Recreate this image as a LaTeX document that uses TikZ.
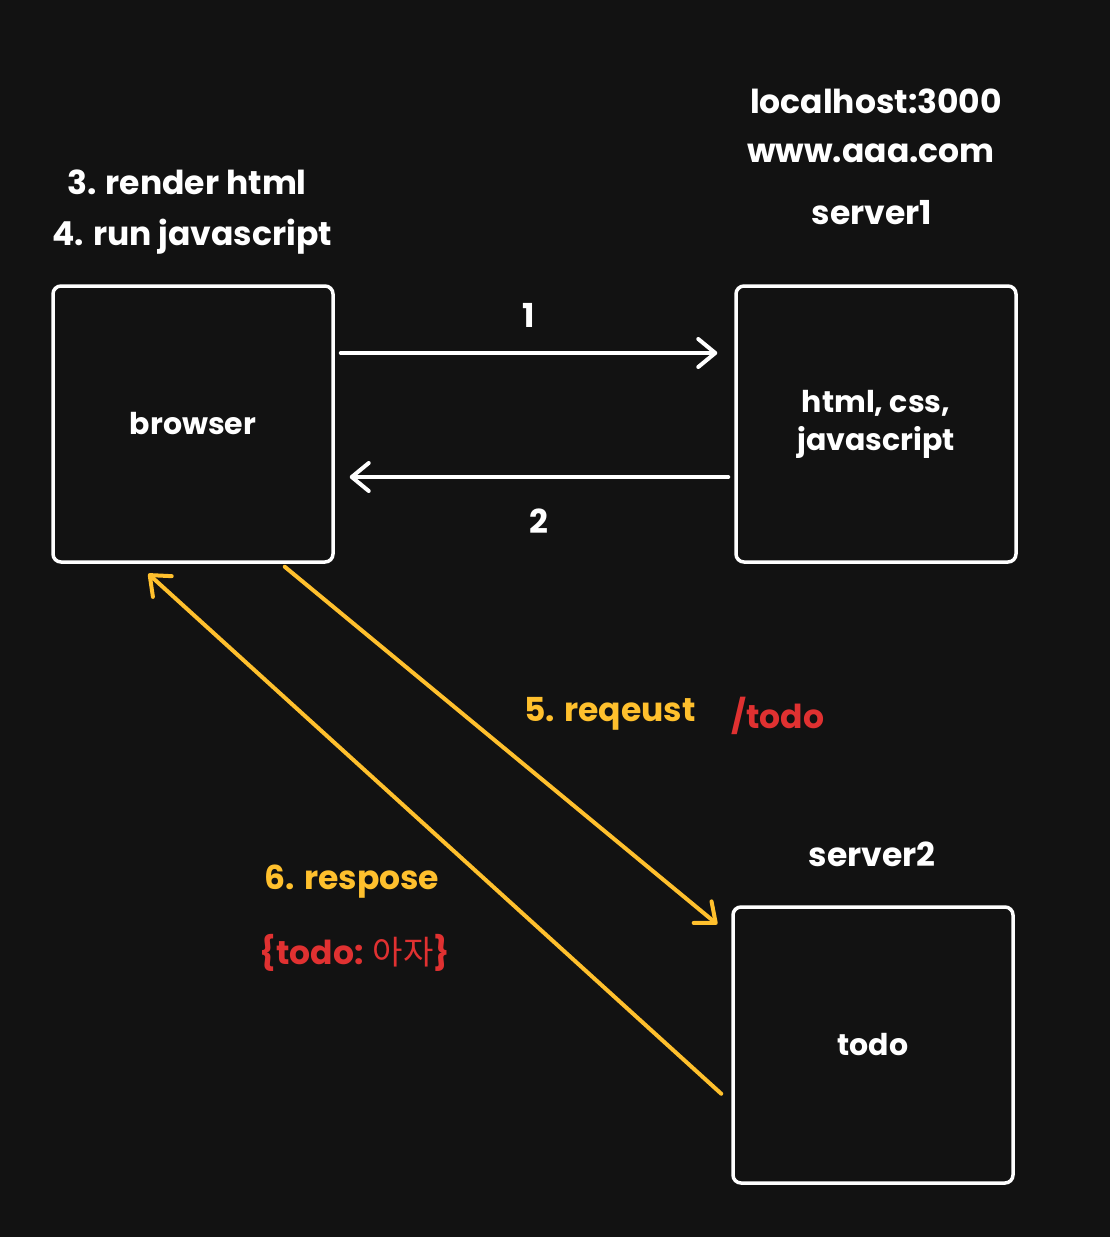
\documentclass[tikz,border=0pt]{standalone}
\usepackage{fontspec}
\setmainfont{Poppins}
\newfontfamily\kofont{Noto Sans CJK KR}
\usetikzlibrary{arrows.meta,calc}
\definecolor{bgdark}{HTML}{121212}
\definecolor{sketchyellow}{HTML}{FFC02D}
\definecolor{sketchred}{HTML}{E03131}
\tikzset{
  box/.style={draw=white, line width=3.5pt, rounded corners=8pt, fill=bgdark,
    minimum width=280pt, minimum height=276pt, text=white, align=center,
    font=\fontsize{30}{38}\selectfont\bfseries},
  lbl/.style={text=white, font=\fontsize{33}{38}\selectfont\bfseries, inner sep=0pt},
  link/.style={line width=4pt, line cap=round,
    -{Straight Barb[length=17pt, width=28pt, line width=4pt, round]}},
}
\begin{document}
\begin{tikzpicture}[x=1pt, y=-1pt]
  \fill[bgdark] (0,0) rectangle (1110,1237);
  \useasboundingbox (0,0) rectangle (1110,1237);

  % boxes
  \node[box] (browser) at (193,424) {browser};
  \node[box] (server1) at (876,424) {html, css,\\javascript};
  \node[box] (server2) at (873,1045) {todo};

  % labels above boxes
  \node[lbl] (host) at (876,101) {localhost:3000};
  \node[lbl] (domain) at (871,153) {www.aaa.com};
  \node[lbl] (s1name) at (872,213) {server1};
  \node[lbl] (render) at (187,182) {3. render html};
  \node[lbl] (runjs) at (192,237) {4. run javascript};
  \node[lbl] (s2name) at (872,854) {server2};

  % white request/response
  \draw[link, white] ($(browser.east)+(6,-71)$) -- ($(server1.west)+(-17,-71)$)
    node[lbl, midway, above=24pt] (one) {1};
  \draw[link, white] ($(server1.west)+(-6,53)$) -- ($(browser.east)+(15,53)$)
    node[lbl, midway, below=30pt] (two) {2};

  % yellow request/response
  \draw[link, sketchyellow] ($(browser.south east)+(-50,3)$) -- ($(server2.north west)+(-14,19)$);
  \draw[link, sketchyellow] ($(server2.south west)+(-10,-91)$) -- ($(browser.south west)+(97,10)$);

  \node[lbl, text=sketchyellow] (req) at (610,714) {5. reqeust};
  \node[lbl, text=sketchred] (path) at (778,716) {/todo};
  \node[lbl, text=sketchyellow] (resp) at (352,882) {6. respose};
  \node[lbl, text=sketchred] (body) at (355,953) {\{todo: {\kofont\mdseries 아자}\}};
\end{tikzpicture}
\end{document}
